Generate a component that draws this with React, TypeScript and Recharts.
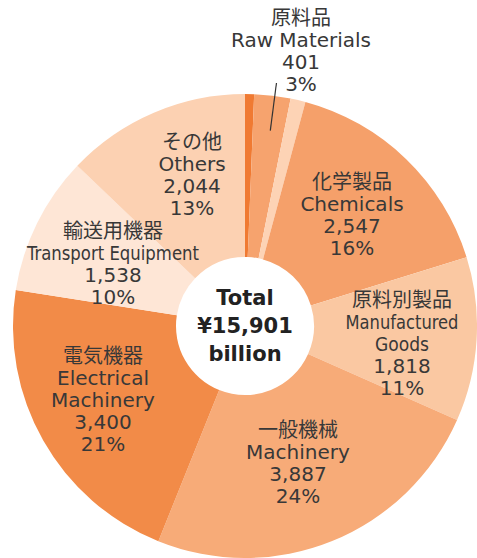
import React from 'react';
import { PieChart, Pie, Cell } from 'recharts';

// 輸出品目別構成（10億円）
const keys = ['food', 'raw', 'fuel', 'chem', 'manuf', 'mach', 'elec', 'trans', 'others'];
const namesJa = ['食料品', '原料品', '鉱物性燃料', '化学製品', '原料別製品', '一般機械', '電気機器', '輸送用機器', 'その他'];
const namesEn: string[][] = [[], ['Raw Materials'], [], ['Chemicals'], ['Manufactured', 'Goods'], ['Machinery'], ['Electrical', 'Machinery'], ['Transport Equipment'], ['Others']];
const values = [100, 401, 166, 2547, 1818, 3887, 3400, 1538, 2044];
const colors = ['#F07A32', '#F6A36E', '#FDD3B5', '#F5A06A', '#FAC8A2', '#F7AB78', '#F28B48', '#FEE6D6', '#FCD1B2'];
const TOTAL_LINES = ['Total', '¥15,901', 'billion'];

const data = keys.map((k, i) => ({ key: k, ja: namesJa[i], en: namesEn[i], value: values[i] }));

const W = 477;
const H = 558;
const CX = 245;
const CY = 326;
const LINE = 22;
const FONT = "'DejaVu Sans', 'Noto Sans CJK JP', sans-serif";
const FONT_NARROW = "'DejaVu Sans Condensed', 'DejaVu Sans', sans-serif";

// ラベル位置（中心からのずれ）
const labelPos: Record<string, { dx: number; dy: number }> = {
  raw: { dx: 56, dy: -275 },
  chem: { dx: 107, dy: -111 },
  manuf: { dx: 157, dy: 18 },
  mach: { dx: 53, dy: 137 },
  elec: { dx: -142, dy: 74 },
  trans: { dx: -132, dy: -62 },
  others: { dx: -53, dy: -151 },
};
// 幅を詰める英字
const squeeze: Record<string, number> = { 'Transport Equipment': 172, Manufactured: 113, Goods: 54 };

const renderLabel = (props: any) => {
  const p = props.payload?.payload ?? props.payload ?? {};
  const pos = labelPos[p.key];
  if (!pos) return null;
  const cx = Number(props.cx ?? CX);
  const cy = Number(props.cy ?? CY);
  const lines = [p.ja, ...p.en, p.value.toLocaleString('en-US'), `${Math.round(props.percent * 100)}%`];
  const x = cx + pos.dx;
  const y0 = cy + pos.dy - ((lines.length - 1) * LINE) / 2;
  let leader = null;
  if (p.key === 'raw') {
    // 原料品の引き出し線
    const ang = (props.midAngle * Math.PI) / 180 - 0.01;
    leader = (
      <line
        x1={cx + 197 * Math.cos(ang)}
        y1={cy - 197 * Math.sin(ang)}
        x2={cx + 245 * Math.cos(ang)}
        y2={cy - 245 * Math.sin(ang)}
        stroke="#333"
        strokeWidth={1.2}
      />
    );
  }
  return (
    <g key={p.key}>
      {leader}
      {lines.map((t: string, i: number) => (
        <text
          key={i}
          x={x}
          y={y0 + i * LINE}
          textAnchor="middle"
          dominantBaseline="central"
          fill="#383838"
          fontSize={20}
          fontFamily={squeeze[t] ? FONT_NARROW : FONT}
          {...(squeeze[t] ? { textLength: squeeze[t], lengthAdjust: 'spacingAndGlyphs' } : {})}
        >
          {t}
        </text>
      ))}
    </g>
  );
};

export default function App() {
  return (
    <div style={{ position: 'absolute', left: 0, top: 0, width: W, height: H, background: '#fff' }}>
      <PieChart width={W} height={H} margin={{ top: 0, right: 0, bottom: 0, left: 0 }}>
        <Pie
          data={data}
          dataKey="value"
          nameKey="ja"
          cx={CX}
          cy={CY}
          innerRadius={69}
          outerRadius={232}
          startAngle={90}
          endAngle={-270}
          stroke="none"
          label={renderLabel}
          labelLine={false}
          isAnimationActive={false}
        >
          {data.map((d, i) => (
            <Cell key={d.key} fill={colors[i]} />
          ))}
        </Pie>
      </PieChart>
      <div
        style={{
          position: 'absolute',
          left: CX - 69,
          top: CY - 69,
          width: 138,
          height: 138,
          display: 'flex',
          flexDirection: 'column',
          alignItems: 'center',
          justifyContent: 'center',
          fontFamily: FONT,
          fontWeight: 'bold',
          fontSize: 21,
          lineHeight: '28px',
          color: '#222',
          pointerEvents: 'none',
        }}
      >
        {TOTAL_LINES.map((t) => (
          <div key={t}>{t}</div>
        ))}
      </div>
    </div>
  );
}
